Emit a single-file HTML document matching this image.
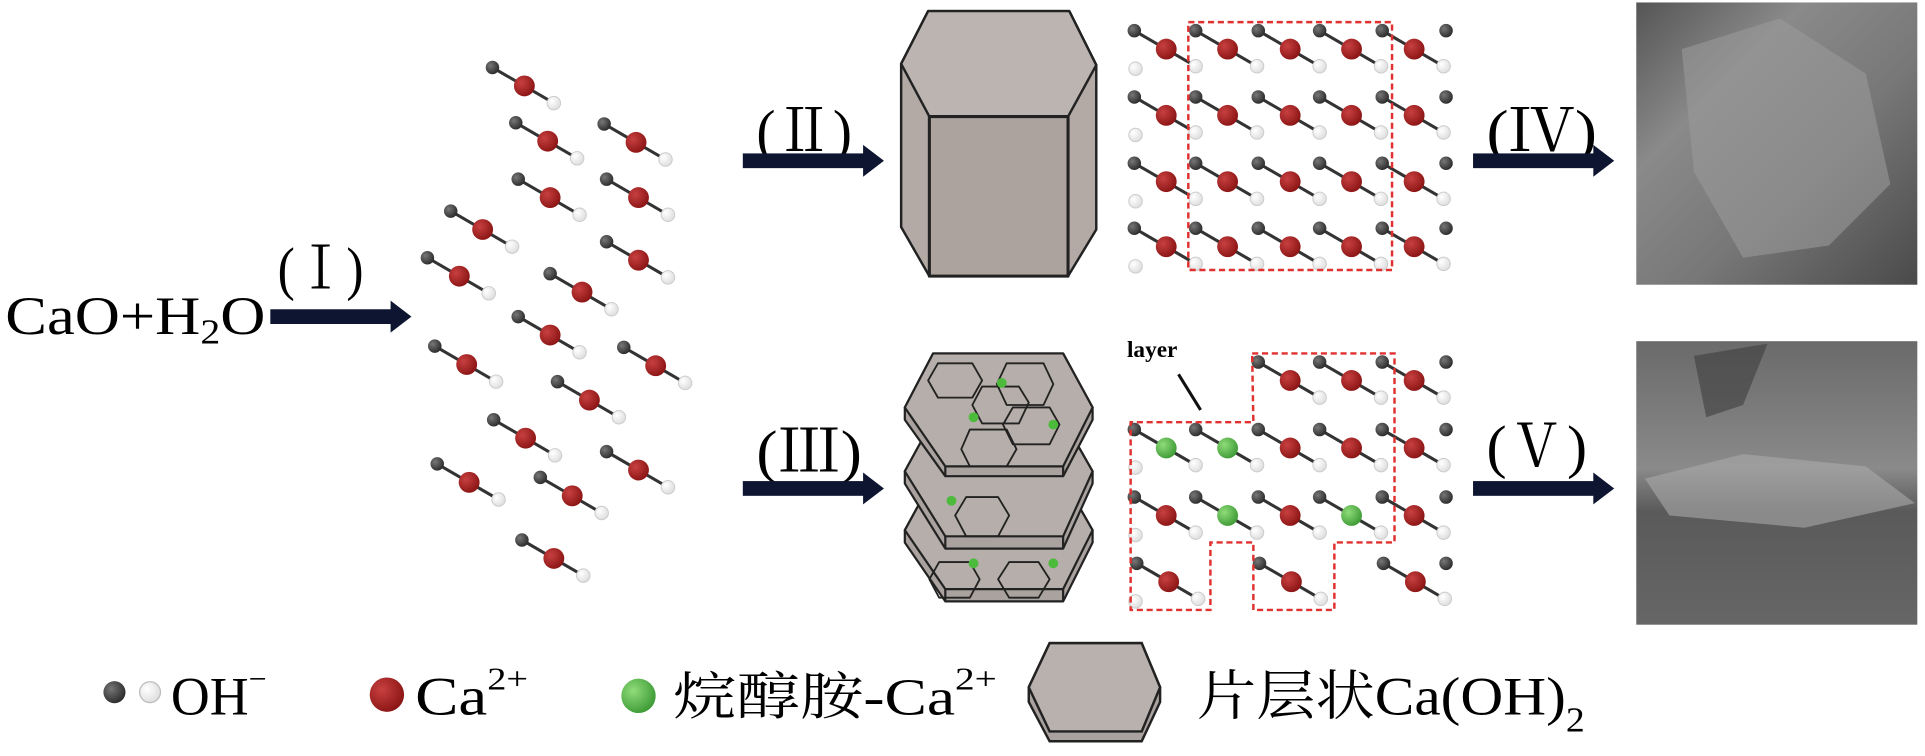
<!DOCTYPE html>
<html><head><meta charset="utf-8"><style>html,body{margin:0;padding:0;background:#fff;width:1925px;height:756px;overflow:hidden}</style></head>
<body>
<svg width="1925" height="756" viewBox="0 0 1568 616" xmlns="http://www.w3.org/2000/svg" font-family="'Liberation Serif','Noto Serif CJK SC',serif">
<defs>
<radialGradient id="gd" cx="0.35" cy="0.35" r="0.7"><stop offset="0" stop-color="#777"/><stop offset="1" stop-color="#2a2a2a"/></radialGradient>
<radialGradient id="gr" cx="0.35" cy="0.35" r="0.7"><stop offset="0" stop-color="#c84040"/><stop offset="1" stop-color="#8a1414"/></radialGradient>
<radialGradient id="gg" cx="0.35" cy="0.35" r="0.7"><stop offset="0" stop-color="#8fdc7a"/><stop offset="1" stop-color="#3d9a35"/></radialGradient>
<radialGradient id="gw" cx="0.35" cy="0.35" r="0.7"><stop offset="0" stop-color="#fff"/><stop offset="1" stop-color="#ddd"/></radialGradient>
<linearGradient id="sem1" x1="0" y1="0" x2="1" y2="1"><stop offset="0" stop-color="#555"/><stop offset="0.3" stop-color="#8a8a8a"/><stop offset="0.6" stop-color="#777"/><stop offset="1" stop-color="#4a4a4a"/></linearGradient>
<linearGradient id="sem2" x1="0" y1="0" x2="0" y2="1"><stop offset="0" stop-color="#6a6a6a"/><stop offset="0.45" stop-color="#8a8a8a"/><stop offset="0.6" stop-color="#5a5a5a"/><stop offset="1" stop-color="#666"/></linearGradient>
<g id="mr"><line x1="-26" y1="-15" x2="24" y2="14" stroke="#333" stroke-width="2.5"/><circle cx="-26" cy="-15" r="5.5" fill="url(#gd)"/><circle cx="24" cy="14" r="5.5" fill="url(#gw)" stroke="#ccc" stroke-width="0.8"/><circle r="8.5" fill="url(#gr)"/></g>
<g id="mg"><line x1="-26" y1="-15" x2="24" y2="14" stroke="#333" stroke-width="2.5"/><circle cx="-26" cy="-15" r="5.5" fill="url(#gd)"/><circle cx="24" cy="14" r="5.5" fill="url(#gw)" stroke="#ccc" stroke-width="0.8"/><circle r="8.5" fill="url(#gg)"/></g>
<g id="arr"><rect x="0" y="-6" width="100" height="12" fill="#0d1530"/><polygon points="98,-13 115,0 98,13" fill="#0d1530"/></g>
<g id="row"><use href="#mr" x="950" y="0"/><use href="#mr" x="1000" y="0"/><use href="#mr" x="1051" y="0"/><use href="#mr" x="1101" y="0"/><use href="#mr" x="1152" y="0"/>
 <circle cx="1178" cy="-15" r="5.5" fill="url(#gd)"/><circle cx="925" cy="16" r="5.5" fill="url(#gw)" stroke="#ccc" stroke-width="0.8"/></g>
</defs>

<text x="4" y="272" font-size="44" textLength="212" lengthAdjust="spacingAndGlyphs">CaO+H<tspan font-size="28" dy="8">2</tspan><tspan dy="-8">O</tspan></text>
<text x="226" y="235" font-size="48" textLength="70" lengthAdjust="spacingAndGlyphs">(Ⅰ)</text>
<use href="#arr" x="220" y="258"/>

<g>
<use href="#mr" x="427" y="70"/><use href="#mr" x="446" y="115"/><use href="#mr" x="518" y="116"/>
<use href="#mr" x="448" y="161"/><use href="#mr" x="520" y="161"/><use href="#mr" x="393" y="187"/>
<use href="#mr" x="520" y="212"/><use href="#mr" x="374" y="225"/><use href="#mr" x="474" y="238"/>
<use href="#mr" x="448" y="273"/><use href="#mr" x="380" y="297"/><use href="#mr" x="534" y="298"/>
<use href="#mr" x="480" y="326"/><use href="#mr" x="428" y="357"/><use href="#mr" x="382" y="393"/>
<use href="#mr" x="520" y="383"/><use href="#mr" x="466" y="404"/><use href="#mr" x="451" y="455"/>
</g>

<text x="616" y="123" font-size="48" textLength="78" lengthAdjust="spacingAndGlyphs">(Ⅱ)</text>
<use href="#arr" x="605" y="131"/>
<text x="616" y="384" font-size="48" textLength="86" lengthAdjust="spacingAndGlyphs">(Ⅲ)</text>
<use href="#arr" x="605" y="398"/>

<g stroke="#222" stroke-width="2" stroke-linejoin="round">
<polygon points="756,9 871,9 893,53 893,187 870,225 757,225 734,185 734,52" fill="#b3aaa6"/>
<polygon points="756,9 871,9 893,53 870,95 757,95 734,52" fill="#bcb4b0"/>
<rect x="757" y="95" width="113" height="130" fill="#aca29e" stroke-width="2.5"/>
</g>

<g stroke="#222" stroke-width="1.8" stroke-linejoin="round">
 <g transform="translate(0,100)">
  <polygon points="760,290 866,290 890,332 890,342 866,390 770,390 737,342 737,332" fill="#aaa29e"/>
  <polygon points="760,290 866,290 890,332 866,380 770,380 737,332" fill="#b6aeaa"/>
  <line x1="770" y1="380" x2="770" y2="390"/><line x1="866" y1="380" x2="866" y2="390"/>
 </g>
 <g transform="translate(0,52)">
  <polygon points="760,290 866,290 890,332 890,342 866,395 770,395 737,342 737,332" fill="#aaa29e"/>
  <polygon points="760,290 866,290 890,332 866,385 770,385 737,332" fill="#b6aeaa"/>
  <line x1="770" y1="385" x2="770" y2="395"/><line x1="866" y1="385" x2="866" y2="395"/>
 </g>
 <polygon points="760,288 866,288 890,332 890,342 866,388 770,388 737,342 737,332" fill="#aaa29e"/>
 <polygon points="760,288 866,288 890,332 866,380 770,380 737,332" fill="#b6aeaa"/>
 <line x1="770" y1="380" x2="770" y2="388"/><line x1="866" y1="380" x2="866" y2="388"/>
 <g fill="none" stroke-width="1.5">
  <polygon points="764,296 792,296 800,310 792,324 764,324 756,310"/>
  <polygon points="820,296 850,296 858,313 850,330 820,330 812,313"/>
  <polygon points="800,315 830,315 838,328 830,345 800,345 792,330"/>
  <polygon points="825,332 855,332 863,346 855,362 825,362 817,346"/>
  <polygon points="790,350 820,350 828,366 820,380 790,380 783,366"/>
  <polygon points="787,405 813,405 822,420 813,437 787,437 778,420"/>
  <polygon points="765,458 790,458 798,472 790,487 765,487 757,472"/>
  <polygon points="822,458 846,458 855,472 846,487 822,487 813,472"/>
 </g>
 <g stroke="none" fill="#4cbb3c">
  <circle cx="816" cy="312" r="4"/><circle cx="793" cy="340" r="4"/><circle cx="858" cy="346" r="4"/>
  <circle cx="775" cy="408" r="4"/><circle cx="793" cy="459" r="4"/><circle cx="858" cy="459" r="4"/>
 </g>
</g>

<use href="#row" x="0" y="40"/><use href="#row" x="0" y="94"/><use href="#row" x="0" y="148"/><use href="#row" x="0" y="201"/>
<rect x="968" y="18" width="166" height="202" fill="none" stroke="#e03030" stroke-width="2" stroke-dasharray="5,3"/>

<use href="#mr" x="1051" y="310"/><use href="#mr" x="1101" y="310"/><use href="#mr" x="1152" y="310"/>
<circle cx="1178" cy="295" r="5.5" fill="url(#gd)"/>
<use href="#mg" x="950" y="365"/><use href="#mg" x="1000" y="365"/><use href="#mr" x="1051" y="365"/><use href="#mr" x="1101" y="365"/><use href="#mr" x="1152" y="365"/>
<circle cx="1178" cy="350" r="5.5" fill="url(#gd)"/><circle cx="925" cy="381" r="5.5" fill="url(#gw)" stroke="#ccc" stroke-width="0.8"/>
<use href="#mr" x="950" y="420"/><use href="#mg" x="1000" y="420"/><use href="#mr" x="1051" y="420"/><use href="#mg" x="1101" y="420"/><use href="#mr" x="1152" y="420"/>
<circle cx="1178" cy="405" r="5.5" fill="url(#gd)"/><circle cx="925" cy="436" r="5.5" fill="url(#gw)" stroke="#ccc" stroke-width="0.8"/>
<use href="#mr" x="952" y="474"/><use href="#mr" x="1052" y="474"/><use href="#mr" x="1153" y="474"/>
<circle cx="1178" cy="459" r="5.5" fill="url(#gd)"/><circle cx="925" cy="490" r="5.5" fill="url(#gw)" stroke="#ccc" stroke-width="0.8"/>
<polygon points="1020,288 1136,288 1136,442 1087,442 1087,497 1021,497 1021,442 986,442 986,497 921,497 921,344 1021,344" fill="none" stroke="#e03030" stroke-width="2" stroke-dasharray="5,3"/>
<text x="918" y="291" font-size="19" font-weight="bold">layer</text>
<line x1="960" y1="305" x2="978" y2="334" stroke="#111" stroke-width="2.5"/>

<text x="1211" y="123" font-size="48" textLength="90" lengthAdjust="spacingAndGlyphs">(Ⅳ)</text>
<use href="#arr" x="1200" y="131"/>
<text x="1211" y="380" font-size="48" textLength="82" lengthAdjust="spacingAndGlyphs">(Ⅴ)</text>
<use href="#arr" x="1200" y="398"/>

<rect x="1333" y="2" width="229" height="230" fill="url(#sem1)"/>
<polygon points="1370,40 1450,15 1520,60 1540,150 1490,200 1420,210 1380,140" fill="#9a9a9a" opacity="0.6"/>
<rect x="1333" y="278" width="229" height="231" fill="url(#sem2)"/>
<polygon points="1340,390 1420,370 1520,380 1560,410 1470,430 1360,420" fill="#aaa" opacity="0.6"/>
<polygon points="1380,290 1440,280 1420,330 1390,340" fill="#3e3e3e" opacity="0.6"/>

<circle cx="93" cy="564" r="9" fill="url(#gd)"/>
<circle cx="122" cy="564" r="8.5" fill="url(#gw)" stroke="#bbb"/>
<text x="139" y="582" font-size="44" textLength="78" lengthAdjust="spacingAndGlyphs">OH<tspan font-size="26" dy="-20">−</tspan></text>
<circle cx="315" cy="566" r="14" fill="url(#gr)"/>
<text x="338" y="582" font-size="44" textLength="92" lengthAdjust="spacingAndGlyphs">Ca<tspan font-size="26" dy="-20">2+</tspan></text>
<circle cx="520" cy="567" r="14" fill="url(#gg)"/>
<text x="548" y="582" font-size="42" textLength="264" lengthAdjust="spacingAndGlyphs">烷醇胺-Ca<tspan font-size="26" dy="-20">2+</tspan></text>
<g stroke="#222" stroke-width="2">
<polygon points="855,524 930,524 945,560 945,572 930,604 855,604 838,572 838,560" fill="#aaa29e"/>
<polygon points="855,524 930,524 945,560 930,596 855,596 838,560" fill="#b9b1ad"/>
</g>
<text x="975" y="582" font-size="44" textLength="316" lengthAdjust="spacingAndGlyphs">片层状Ca(OH)<tspan font-size="28" dy="14">2</tspan></text>
</svg>
</body></html>
